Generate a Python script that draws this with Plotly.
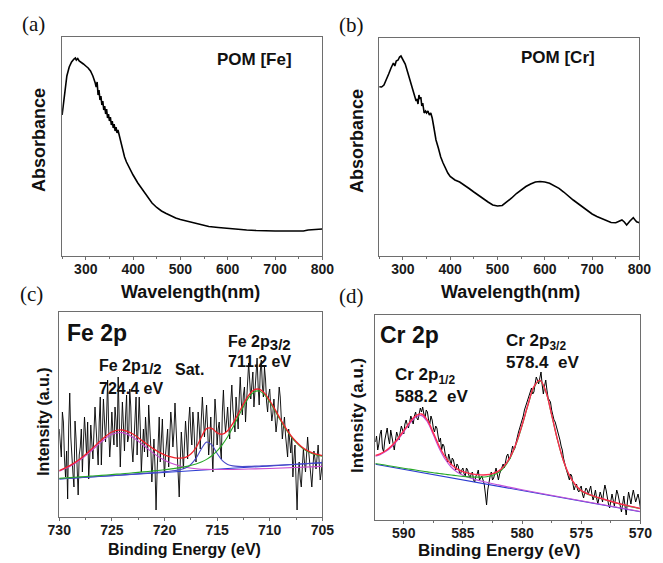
import numpy as np
import plotly.graph_objects as go

W, H = 663, 563

# ---------------- UV-vis: POM [Fe] ----------------
fe_uv_nm = [250, 253, 256, 260, 265, 270, 275, 278, 280, 283, 286, 290, 295, 300,
            305, 310, 315, 320, 322, 324, 326, 328, 330, 332, 334, 336, 338, 340,
            342, 344, 346, 348, 350, 352, 354, 356, 358, 360, 362, 364, 366, 368,
            370, 372, 375, 378, 382, 386, 390, 395, 400, 410, 420, 430, 440, 450,
            460, 470, 480, 490, 500, 520, 540, 560, 580, 600, 620, 640, 660, 680,
            700, 720, 740, 750, 760, 770, 780, 790, 800]
fe_uv_abs = [141, 154, 168, 180, 189, 194, 197, 198, 196, 197.5, 195, 194, 192, 190,
             188, 185, 180, 173, 169, 174, 161, 166, 156, 160, 151, 155, 146, 150,
             142, 147, 138, 142, 135, 139, 131, 135, 128, 132, 125, 129, 123, 126,
             122, 119, 112, 105, 99, 94, 90, 85, 81, 73, 66, 59, 53, 48.5,
             45, 42.5, 40, 38, 36.5, 34, 31.5, 29.5, 28.5, 27.5, 26.5, 26, 25.5, 25,
             25, 25, 25, 25.5, 25, 26, 26.5, 26.5, 27]

# ---------------- UV-vis: POM [Cr] ----------------
cr_uv_nm = [250, 255, 260, 265, 270, 275, 280, 283, 286, 290,
            293, 296, 300, 305, 310, 315, 320, 325, 328, 330,
            332, 334, 336, 338, 340, 342, 345, 348, 350, 353,
            356, 359, 362, 365, 368, 370, 375, 380, 385, 390,
            395, 400, 410, 420, 430, 440, 450, 460, 470, 480,
            490, 500, 510, 520, 530, 540, 550, 560, 570, 580,
            590, 600, 610, 620, 630, 640, 650, 660, 670, 680,
            690, 700, 710, 720, 730, 740, 750, 758, 763, 768,
            773, 780, 787, 790, 794, 800]
cr_uv_abs = [169.3, 169, 171, 176, 182, 188, 193, 190, 195, 196,
             199, 200, 196, 192, 184, 176, 167, 160, 155, 157,
             152, 161, 157, 159, 150, 153, 143, 145, 143, 145,
             141, 143, 138, 130, 119, 116, 108, 99, 93, 87,
             83, 79.5, 76, 74, 71, 67.5, 64, 60.5, 57, 54,
             51, 50, 50.5, 54, 58, 62.5, 66, 69.5, 72, 74,
             74.5, 74, 72.7, 70.5, 67.7, 64, 59.5, 56, 52.5, 49,
             45, 42, 39.5, 37.5, 35, 33.5, 33.3, 35, 36, 34,
             31, 35, 38.3, 36.5, 34.3, 33.3]

# ---------------- XPS Fe 2p (730 -> 705 eV, 0.1 eV step; one row per eV) ----------------
fe_xps_be = np.round(np.arange(730.0, 704.99, -0.1), 1)
fe_xps_counts = [
    88, 72, 60, 105, 95, 58, 40, 66, 18, 90,
    124, 80, 55, 44, 30, 96, 78, 50, 22, 62,
    70, 88, 45, 75, 100, 82, 62, 95, 38, 60,
    92, 74, 58, 85, 110, 90, 70, 52, 95, 120,
    52, 80, 118, 96, 75, 100, 137, 88, 60, 78,
    105, 85, 72, 110, 96, 70, 140, 98, 50, 82,
    115, 92, 66, 100, 122, 75, 80, 128, 110, 70,
    55, 76, 98, 120, 62, 85, 120, 90, 45, 68,
    88, 65, 100, 82, 60, 112, 95, 70, 35, 60,
    78, 50, 7, 45, 82, 100, 55, 75, 98, 66,
    40, 62, 75, 88, 50, 80, 105, 92, 70, 85,
    114, 90, 60, 38, 20, 55, 85, 68, 48, 72,
    96, 80, 58, 95, 110, 86, 72, 105, 90, 64,
    55, 82, 105, 90, 68, 98, 120, 100, 80, 96,
    112, 88, 62, 78, 100, 70, 45, 85, 118, 102,
    72, 88, 95, 70, 58, 105, 127, 100, 85, 96,
    110, 90, 78, 115, 132, 108, 96, 85, 120, 100,
    88, 118, 140, 115, 102, 122, 130, 95, 110, 135,
    154, 128, 118, 132, 145, 110, 125, 140, 159, 130,
    112, 145, 157, 132, 120, 150, 138, 115, 105, 122,
    128, 110, 96, 104, 118, 100, 85, 95, 108, 130,
    120, 96, 78, 90, 100, 82, 70, 60, 88, 75,
    64, 80, 40, 58, 72, 36, 7, 42, 55, 38,
    30, 50, 68, 55, 45, 62, 80, 66, 52, 40,
    30, 48, 66, 58, 48, 60, 72, 55, 37, 45,
    58,
]

fe_bg_be = [730, 705]
fe_bg = [38, 54.3]

fe_fit_be = [730, 729, 728, 727, 726, 725, 724, 723, 722, 721, 720, 719.5, 719, 718.5,
             718, 717.5, 717, 716.5, 716, 715.5, 715, 714.5, 714, 713.5, 713, 712.5,
             712, 711.5, 711, 710.5, 710, 709.5, 709, 708.5, 708, 707.5, 707, 706.5,
             706, 705.5, 705]
fe_envelope = [46.4, 51.4, 58.3, 67.3, 76.9, 85.0, 87.0, 83.0, 75.4, 67.9, 62.1, 60.4,
               59.1, 58.8, 59.6, 62.9, 69.5, 79.7, 88.4, 88.6, 84.2, 82.8, 86.3, 93.6,
               103.0, 113.0, 121.6, 127.1, 127.8, 123.9, 116.5, 107.6, 98.2, 89.4, 81.7,
               75.5, 70.6, 66.9, 64.4, 62.6, 61.4]
fe_p32 = [38.6, 39.4, 40.1, 40.9, 41.6, 42.5, 43.2, 44.2, 45.1, 46.1, 47.2, 47.9, 48.6,
          49.4, 50.4, 51.6, 53.0, 55.0, 57.6, 61.3, 66.1, 72.4, 80.2, 89.6, 99.9, 110.3,
          119.3, 125.1, 126.0, 122.3, 115.1, 106.3, 97.0, 88.3, 80.7, 74.6, 69.7, 66.1,
          63.6, 61.9, 60.7]

fe_p12_be = [730, 729, 728, 727, 726, 725, 724, 723, 722, 721, 720, 719, 718, 717, 716,
             715, 714, 712, 710, 705]
fe_p12 = [45.7, 50.4, 57.1, 65.7, 75.1, 82.7, 84.4, 79.8, 71.7, 63.4, 56.8, 52.4, 49.7,
          48.3, 47.6, 47.5, 47.5, 48.0, 48.5, 50.6]

fe_sat_be = [730, 726, 724, 722, 721, 720, 719.5, 719, 718.5, 718, 717.5, 717, 716.5,
             716, 715.5, 715, 714.5, 714, 713.5, 713, 712, 711, 710, 708, 705]
fe_sat = [38.1, 40.7, 42.1, 43.6, 44.45, 45.3, 45.8, 46.5, 47.4, 49.0, 52.5, 58.9, 68.0,
          74.9, 72.1, 63.5, 56.4, 52.6, 51.1, 50.6, 50.6, 51.0, 51.4, 52.5, 54.4]

# ---------------- XPS Cr 2p (592.4 -> 570 eV, 0.1 eV step; one row per eV) ----------------
cr_xps_be = np.round(np.arange(592.4, 569.99, -0.1), 1)
cr_xps_counts = [
    78, 84, 70, 76, 86, 90, 72, 68, 80, 86,
    92, 82, 76, 90, 84, 78, 70, 80, 88, 84,
    80, 88, 94, 90, 86, 96, 100, 95, 92, 98,
    104, 100, 96, 104, 108, 102, 100, 106, 112, 108,
    113, 106, 102, 110, 108, 100, 96, 104, 100, 92,
    88, 94, 92, 84, 78, 82, 70, 76, 74, 66,
    62, 58, 66, 60, 55, 62, 60, 54, 50, 56,
    54, 48, 46, 50, 52, 46, 44, 52, 50, 45,
    42, 46, 48, 40, 38, 44, 46, 50, 40, 42,
    44, 40, 36, 26, 15, 30, 38, 44, 48, 40,
    42, 48, 52, 46, 40, 46, 50, 54, 56, 52,
    58, 64, 66, 60, 62, 68, 74, 70, 72, 78,
    84, 88, 92, 96, 98, 104, 110, 114, 116, 120,
    124, 130, 132, 126, 128, 136, 143, 140, 136, 142,
    148, 135, 126, 134, 140, 130, 122, 120, 118, 110,
    104, 100, 98, 94, 88, 84, 80, 74, 70, 62,
    56, 52, 48, 44, 40, 46, 44, 36, 30, 34,
    36, 30, 28, 32, 34, 26, 22, 28, 32, 30,
    26, 30, 34, 26, 20, 24, 30, 22, 16, 22,
    28, 24, 18, 28, 35, 30, 22, 16, 12, 20,
    26, 20, 14, 22, 30, 26, 20, 14, 8, 16,
    24, 14, 5, 18, 28, 22, 16, 24, 30, 24,
    18, 22, 26, 20, 12,
]

cr_bg_be = [592.4, 570]
cr_bg = [55.7, 8.3]

cr_fit_be = [592.4, 592, 591.5, 591, 590.5, 590, 589.5, 589, 588.5, 588, 587.5, 587,
             586.5, 586, 585.5, 585, 584, 583.5, 583, 582.5, 582, 581.5, 581, 580.5,
             580, 579.5, 579, 578.5, 578, 577.5, 577, 576.5, 576, 575.5, 575, 574, 573,
             572, 571, 570]
cr_envelope = [64.5, 66.2, 69.5, 74.5, 81.3, 89.3, 97.6, 104.1, 106.0, 99.9, 87.1, 73.8,
               63.2, 55.8, 51.2, 48.3, 45.6, 45.1, 45.2, 46.3, 48.9, 54.1, 63.1, 76.8,
               95.0, 115.5, 133.3, 139.9, 129.0, 105.3, 80.1, 59.3, 44.6, 35.2, 29.3,
               24.1, 20.5, 17.0, 14.1, 11.5]
cr_p32 = [56.5, 55.75, 54.7, 53.7, 52.8, 51.8, 50.9, 49.95, 49.0, 48.15, 47.25, 46.5,
          45.7, 45.0, 44.3, 43.6, 42.9, 42.9, 43.3, 44.65, 47.5, 52.9, 62.1, 75.9, 94.2,
          114.8, 132.6, 139.3, 128.5, 104.8, 79.6, 58.9, 44.2, 34.8, 29.0, 23.8, 20.2,
          16.8, 13.9, 11.3]

cr_p12_be = [592.4, 592, 591.5, 591, 590.5, 590, 589.5, 589, 588.5, 588, 587.5, 587,
             586.5, 586, 585.5, 585, 584, 583, 582, 581, 580, 578, 575, 570]
cr_p12 = [63.7, 65.3, 68.6, 73.5, 80.2, 88.1, 96.3, 102.6, 104.4, 98.1, 85.1, 71.6,
          60.7, 53.0, 48.0, 44.7, 40.6, 37.7, 35.1, 32.6, 30.3, 25.8, 19.2, 8.5]

# ---------------- styling ----------------
FONT = "Arial, Liberation Sans, sans-serif"
SERIF = "Times New Roman, Liberation Serif, serif"
FRAME = "#6e6e6e"
RED = "#f0202a"
GREEN = "#28a828"
BLUE = "#2a3ad0"
SATBLUE = "#4a4ac8"


def px(x):
    return x / W


def py(y):
    return 1 - y / H


# plot-area boxes in page pixels: left, top, right, bottom
boxes = {
    "a": (52, 37, 322, 256),
    "b": (381, 38, 651, 256),
    "c": (49, 312, 322, 517),
    "d": (377, 315, 652, 520),
}

fig = go.Figure()


def line(x, y, ax, color, width, shape="linear"):
    fig.add_trace(go.Scatter(
        x=x, y=y, mode="lines", xaxis="x" + ax, yaxis="y" + ax,
        line=dict(color=color, width=width, shape=shape),
        hoverinfo="skip", showlegend=False,
    ))


# (a) / (b) UV-vis
line(fe_uv_nm, fe_uv_abs, "", "black", 1.6)
line(cr_uv_nm, cr_uv_abs, "2", "black", 1.6)

# (c) Fe 2p
line(fe_xps_be, fe_xps_counts, "3", "black", 0.9)
line(fe_bg_be, fe_bg, "3", BLUE, 1.1)
line(fe_p12_be, fe_p12, "3", "#c84ad0", 1.1, "spline")
line(fe_sat_be, fe_sat, "3", SATBLUE, 1.1, "spline")
line(fe_fit_be, fe_p32, "3", GREEN, 1.1, "spline")
line(fe_fit_be, fe_envelope, "3", RED, 1.3, "spline")

# (d) Cr 2p
line(cr_xps_be, cr_xps_counts, "4", "black", 1.0)
line(cr_bg_be, cr_bg, "4", BLUE, 1.1)
line(cr_p12_be, cr_p12, "4", "#c050d8", 1.1, "spline")
line(cr_fit_be, cr_p32, "4", GREEN, 1.1, "spline")
line(cr_fit_be, cr_envelope, "4", "#ff2a50", 1.4, "spline")

tickfont = dict(family=FONT, size=14, color="#1a1a1a", weight="bold")


def xaxis_cfg(box, rng, dtick, tick0, minor):
    l, t, r, b = box
    return dict(
        domain=[px(l), px(r)], range=rng, showgrid=False, zeroline=False,
        showline=True, mirror=True, linecolor=FRAME, linewidth=1,
        ticks="outside", ticklen=3, tickcolor=FRAME, tickwidth=1,
        ticklabelstandoff=-3,
        dtick=dtick, tick0=tick0, tickfont=tickfont,
        minor=dict(dtick=minor, ticks="outside", ticklen=2, tickcolor=FRAME),
    )


def yaxis_cfg(box, rng, anchor):
    l, t, r, b = box
    return dict(
        domain=[py(b), py(t)], range=rng, showgrid=False, zeroline=False,
        showline=True, mirror=True, linecolor=FRAME, linewidth=1,
        showticklabels=False, ticks="", anchor=anchor,
    )


fig.update_layout(
    width=W, height=H, margin=dict(l=0, r=0, t=0, b=0),
    paper_bgcolor="white", plot_bgcolor="white", showlegend=False,
    xaxis=dict(xaxis_cfg(boxes["a"], [250, 800], 100, 300, 50), anchor="y"),
    yaxis=yaxis_cfg(boxes["a"], [0, 219], "x"),
    xaxis2=dict(xaxis_cfg(boxes["b"], [250, 800], 100, 300, 50), anchor="y2"),
    yaxis2=yaxis_cfg(boxes["b"], [0, 218], "x2"),
    xaxis3=dict(xaxis_cfg(boxes["c"], [730, 705], 5, 705, 2.5), anchor="y3"),
    yaxis3=yaxis_cfg(boxes["c"], [0, 205], "x3"),
    xaxis4=dict(xaxis_cfg(boxes["d"], [592.4, 570], 5, 570, 2.5), anchor="y4"),
    yaxis4=yaxis_cfg(boxes["d"], [0, 205], "x4"),
)

annotations = []


def text(s, x, y, size, bold=True, family=FONT, angle=0, xanchor="center"):
    annotations.append(dict(
        text=s, x=px(x), y=py(y), xref="paper", yref="paper",
        xanchor=xanchor, yanchor="middle", showarrow=False, textangle=angle,
        font=dict(family=family, size=size, color="#111111",
                  weight="bold" if bold else "normal"),
    ))


# panel letters
text("(a)", 22, 24, 21, bold=False, family=SERIF)
text("(b)", 352, 25, 21, bold=False, family=SERIF)
text("(c)", 20, 294, 21, bold=False, family=SERIF)
text("(d)", 352, 296, 21, bold=False, family=SERIF)

# UV-vis labels
text("POM [Fe]", 252, 59, 17)
text("POM [Cr]", 567, 58, 17)
text("Absorbance", 28, 140, 18, angle=-90)
text("Absorbance", 358, 141, 18, angle=-90)
text("Wavelength(nm)", 185, 292, 18)
text("Wavelength(nm)", 517, 292, 18)

# XPS labels
text("Binding Energy (eV)", 179, 549, 16)
text("Binding Energy (eV)", 505, 550, 17)
text("Intensity (a.u.)", 32, 422, 16, angle=-90)
text("Intensity (a.u.)", 358, 416, 17, angle=-90)

text("Fe 2p", 55, 333, 23, xanchor="left")
text("Fe 2p<sub><span style='font-size:15px'>1/2</span></sub>", 88, 367, 16, xanchor="left")
text("724.4 eV", 88, 388, 16, xanchor="left")
text("Sat.", 167, 369, 16, xanchor="left")
text("Fe 2p<sub><span style='font-size:15px'>3/2</span></sub>", 222, 343, 16, xanchor="left")
text("711.2 eV", 222, 361, 16, xanchor="left")

text("Cr 2p", 380, 335, 23, xanchor="left")
text("Cr 2p<sub>1/2</sub>", 395, 376, 17, xanchor="left")
text("588.2&nbsp; eV", 395, 396, 17, xanchor="left")
text("Cr 2p<sub>3/2</sub>", 510, 342, 17, xanchor="left")
text("578.4&nbsp; eV", 510, 362, 17, xanchor="left")

fig.update_layout(annotations=annotations)

fig.write_html("out.html")
